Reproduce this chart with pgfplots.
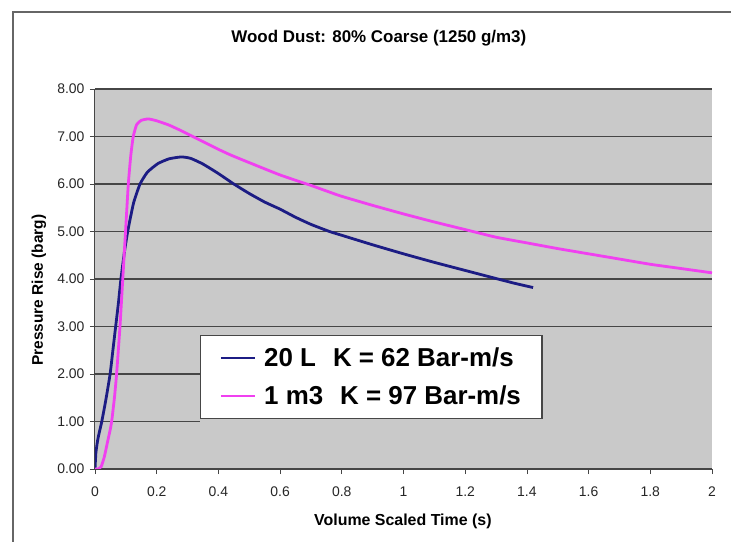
\documentclass[border=0pt]{standalone}
\usepackage{fontspec}
\setmainfont{Liberation Sans}
\usepackage{pgfplots}
\pgfplotsset{compat=1.18}
\definecolor{plotgray}{RGB}{201,201,201}
\definecolor{gridgray}{RGB}{70,70,70}
\definecolor{navyline}{RGB}{28,28,132}
\definecolor{pinkline}{RGB}{240,64,240}
\begin{document}
\begin{tikzpicture}
  \useasboundingbox (-95bp,-73bp) rectangle (636bp,469bp);
  % outer chart frame (only top and left edges are inside the picture)
  \draw[gray!80!black, line width=1.5bp] (-82bp,-80bp) -- (-82bp,457bp) -- (650bp,457bp);
  \begin{axis}[%
    at={(0,0)}, anchor=south west,
    scale only axis,
    width=617bp, height=380bp,
    xmin=0, xmax=2, ymin=0, ymax=8,
    axis background/.style={fill=plotgray},
    axis x line*=bottom, axis y line*=left,
    axis line style={gridgray, line width=1bp},
    tick align=outside, major tick length=5bp,
    tick style={gridgray, line width=0.8bp},
    xtick={0,0.2,0.4,0.6,0.8,1,1.2,1.4,1.6,1.8,2},
    ytick={0,1,2,3,4,5,6,7,8},
    ymajorgrids,
    grid style={gridgray, line width=1.2bp},
    /pgf/number format/assume math mode=true,
    ticklabel style={font=\fontsize{14}{16}\selectfont, text=black!85},
    xticklabel style={yshift=-9bp},
    yticklabel style={xshift=-2bp, /pgf/number format/.cd, fixed, fixed zerofill, precision=2},
    title={Wood Dust: 80\% Coarse (1250 g/m3)},
    title style={font=\fontsize{17}{20}\selectfont\bfseries, at={(axis description cs:0.46,1.117)}, anchor=center},
    xlabel={Volume Scaled Time (s)},
    xlabel style={font=\fontsize{16}{19}\selectfont\bfseries, at={(axis description cs:0.499,-0.137)}, anchor=center},
    ylabel={Pressure Rise (barg)},
    ylabel style={font=\fontsize{15.5}{18}\selectfont\bfseries, at={(axis description cs:-0.091,0.471)}, anchor=center},
    legend style={at={(axis cs:0.34,2.82)}, anchor=north west,
      draw=gridgray, line width=1.3bp, fill=white,
      font=\fontsize{26}{30}\selectfont\bfseries,
      inner xsep=19bp, inner ysep=10bp, row sep=14bp},
    legend cell align=left,
    legend image code/.code={%
      \draw[#1, line width=2.5bp] (0bp,0bp) -- (34bp,0bp);
      \path (40bp,0bp);},
    ]
    \addplot[navyline, line width=2.8bp, smooth, tension=0.3] coordinates {
      (0,0) (0.003,0.35) (0.009,0.62) (0.015,0.8) (0.022,1.0) (0.035,1.45)
      (0.049,2.0) (0.058,2.5) (0.067,3.0) (0.076,3.5) (0.084,4.0) (0.095,4.55)
      (0.106,5.0) (0.125,5.6) (0.146,6.0) (0.17,6.25) (0.204,6.43) (0.24,6.53)
      (0.28,6.57) (0.31,6.54) (0.35,6.42) (0.4,6.22) (0.45,6.0) (0.5,5.8)
      (0.55,5.62) (0.6,5.47) (0.65,5.3) (0.7,5.15) (0.76,5.0) (0.8,4.92)
      (0.9,4.72) (1.0,4.53) (1.1,4.35) (1.2,4.18) (1.3,4.01) (1.36,3.91)
      (1.42,3.82)
    };
    \addlegendentry{20 L\hspace{17bp}K = 62 Bar-m/s}
    \addplot[pinkline, line width=2.8bp, smooth, tension=0.3] coordinates {
      (0,0) (0.01,0.0) (0.02,0.05) (0.03,0.25) (0.04,0.55) (0.05,0.85)
      (0.055,1.05) (0.063,1.5) (0.07,2.0) (0.081,3.0) (0.09,4.0) (0.099,5.0)
      (0.108,6.0) (0.116,6.6) (0.124,7.0) (0.135,7.25) (0.15,7.34) (0.173,7.37)
      (0.2,7.33) (0.24,7.24) (0.28,7.12) (0.32,6.99) (0.36,6.86) (0.4,6.73)
      (0.44,6.61) (0.5,6.45) (0.6,6.19) (0.7,5.97) (0.76,5.83) (0.8,5.74)
      (0.9,5.55) (1.0,5.37) (1.1,5.2) (1.2,5.04) (1.3,4.88) (1.4,4.76)
      (1.5,4.64) (1.6,4.53) (1.7,4.42) (1.8,4.31) (1.9,4.22) (2.0,4.13)
    };
    \addlegendentry{1 m3\hspace{17bp}K = 97 Bar-m/s}
    % the pasted legend hides the 1.00 and 2.00 gridlines to its right
    \fill[plotgray] (axis cs:0.34,0.03) rectangle (axis cs:2,2.86);
  \end{axis}
\end{tikzpicture}
\end{document}
